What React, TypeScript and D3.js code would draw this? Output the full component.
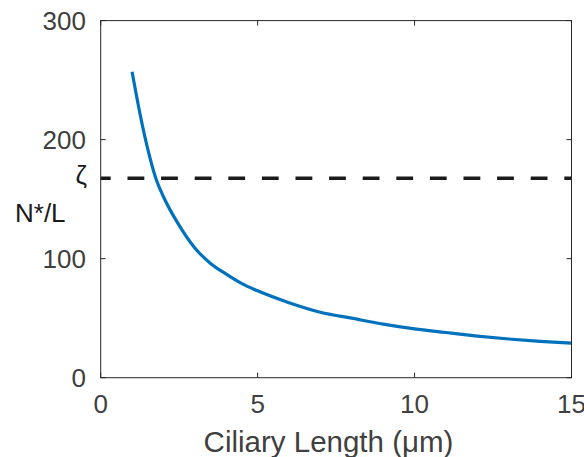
import React from "react";
import * as d3 from "d3";

const lengths = [1, 1.25, 1.5, 1.75, 2, 2.5, 3, 3.5, 4, 4.5, 5, 6, 7, 8, 9, 10, 11, 12, 13, 14, 15];
const values = [257, 222, 192, 168, 152, 128, 109, 96, 87, 79, 73, 63, 55, 50, 45, 41, 38, 35, 32.5, 30.5, 29];
const zeta = 167.6;
const xTicks = [0, 5, 10, 15];
const yTicks = [0, 100, 200, 300];

const W = 584;
const H = 457;
const left = 100.7;
const right = 571.5;
const top = 20.6;
const bottom = 377.7;
const font = "'Liberation Sans', Arial, Helvetica, sans-serif";
const textCol = "#404040";
const axisCol = "#262626";

export default function App() {
  const x = d3.scaleLinear().domain([0, 15]).range([left, right]);
  const y = d3.scaleLinear().domain([0, 300]).range([bottom, top]);
  const pts = lengths.map((l, i) => [l, values[i]] as [number, number]);
  const line = d3
    .line<[number, number]>()
    .x((d) => x(d[0]))
    .y((d) => y(d[1]))
    .curve(d3.curveMonotoneX);
  const tl = 5;
  return (
    <svg
      width={W}
      height={H}
      style={{ position: "absolute", left: 0, top: 0, background: "#fff" }}
      fontFamily={font}
    >
      <rect x={0} y={0} width={W} height={H} fill="#fff" />
      {/* curve */}
      <path d={line(pts) || ""} fill="none" stroke="#0072BD" strokeWidth={3.2} strokeLinejoin="round" />
      {/* threshold */}
      <line
        x1={x(0)}
        x2={x(15)}
        y1={y(zeta)}
        y2={y(zeta)}
        stroke="#1a1a1a"
        strokeWidth={3.6}
        strokeDasharray="16.8 16.8"
        strokeDashoffset={6.8}
      />
      {/* box */}
      <rect
        x={left}
        y={top}
        width={right - left}
        height={bottom - top}
        fill="none"
        stroke={axisCol}
        strokeWidth={1}
      />
      {xTicks.map((t) => (
        <g key={"x" + t}>
          <line x1={x(t)} x2={x(t)} y1={bottom} y2={bottom - tl} stroke={axisCol} strokeWidth={1} />
          <line x1={x(t)} x2={x(t)} y1={top} y2={top + tl} stroke={axisCol} strokeWidth={1} />
          <text x={x(t)} y={413.3} textAnchor="middle" fontSize={26} fill={textCol}>
            {t}
          </text>
        </g>
      ))}
      {yTicks.map((t) => (
        <g key={"y" + t}>
          <line x1={left} x2={left + tl} y1={y(t)} y2={y(t)} stroke={axisCol} strokeWidth={1} />
          <line x1={right} x2={right - tl} y1={y(t)} y2={y(t)} stroke={axisCol} strokeWidth={1} />
          <text x={86} y={y(t) + 9.3} textAnchor="end" fontSize={26} fill={textCol}>
            {t}
          </text>
        </g>
      ))}
      <text x={87} y={y(zeta) + 6} textAnchor="end" fontSize={26} fill="#1a1a1a">
        ζ
      </text>
      <text x={15} y={222} fontSize={26} fill="#1a1a1a">
        N*/L
      </text>
      <text x={(198 + 459) / 2} y={451.5} textAnchor="middle" fontSize={29.5} fill={textCol}>
        Ciliary Length (μm)
      </text>
    </svg>
  );
}
